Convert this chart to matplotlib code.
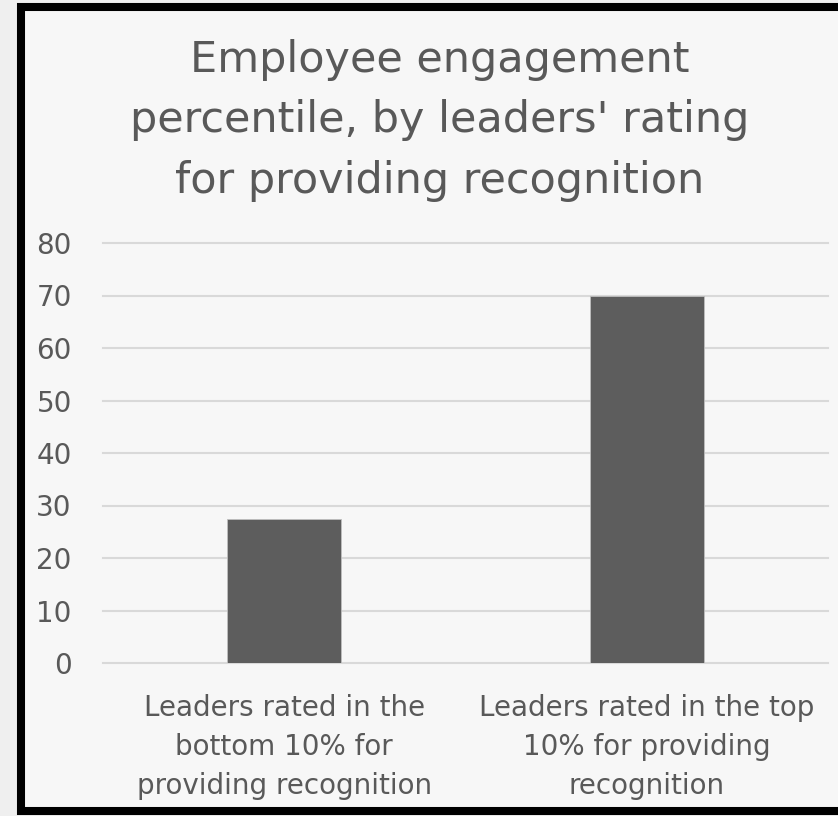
import matplotlib
matplotlib.use("Agg")
from matplotlib import pyplot as plt
from matplotlib.patches import Rectangle

# chart data
categories = ["Leaders rated in the\nbottom 10% for\nproviding recognition",
              "Leaders rated in the top\n10% for providing\nrecognition"]
values = [27.4, 70]
yticks = [0, 10, 20, 30, 40, 50, 60, 70, 80]
title = "Employee engagement\npercentile, by leaders' rating\nfor providing recognition"

W, H = 838, 816
txt = "#595959"
plt.rcParams["font.family"] = ["DejaVu Sans"]

fig = plt.figure(figsize=(W / 100, H / 100), dpi=100, facecolor="#efefef")

# black frame around the chart area (open on the right)
frame = Rectangle((21 / W, 1 - 811 / H), 900 / W, 804 / H, transform=fig.transFigure,
                  facecolor="#f7f7f7", edgecolor="black", linewidth=5.8, zorder=-10)
fig.patches.append(frame)

ax = fig.add_axes([103 / W, 1 - 663 / H, 725 / W, 420 / H])
ax.set_zorder(5)
ax.set_facecolor("none")
x = range(len(values))
ax.bar(x, values, width=0.314, color="#5d5d5d", edgecolor="#bfbfbf", linewidth=0.6, zorder=3)
ax.set_xlim(-0.5, 1.5)
ax.set_ylim(0, 80)
ax.set_yticks(yticks)
ax.set_xticks(list(x))
ax.set_xticklabels(categories, fontsize=20, color=txt, linespacing=1.5)
ax.tick_params(axis="y", labelsize=20, labelcolor=txt, length=0, pad=22.5)
ax.tick_params(axis="x", length=0, pad=22.5)
ax.grid(axis="y", color="#d9d9d9", linewidth=1.5, zorder=0)
for gl in ax.get_ygridlines():
    gl.set_clip_on(False)
for s in ax.spines.values():
    s.set_visible(False)

fig.text(440 / W, 1 - 39 / H, title, ha="center", va="top", fontsize=31, color=txt,
         linespacing=1.56, zorder=6)

fig.savefig("out.png", dpi=100, facecolor=fig.get_facecolor())
